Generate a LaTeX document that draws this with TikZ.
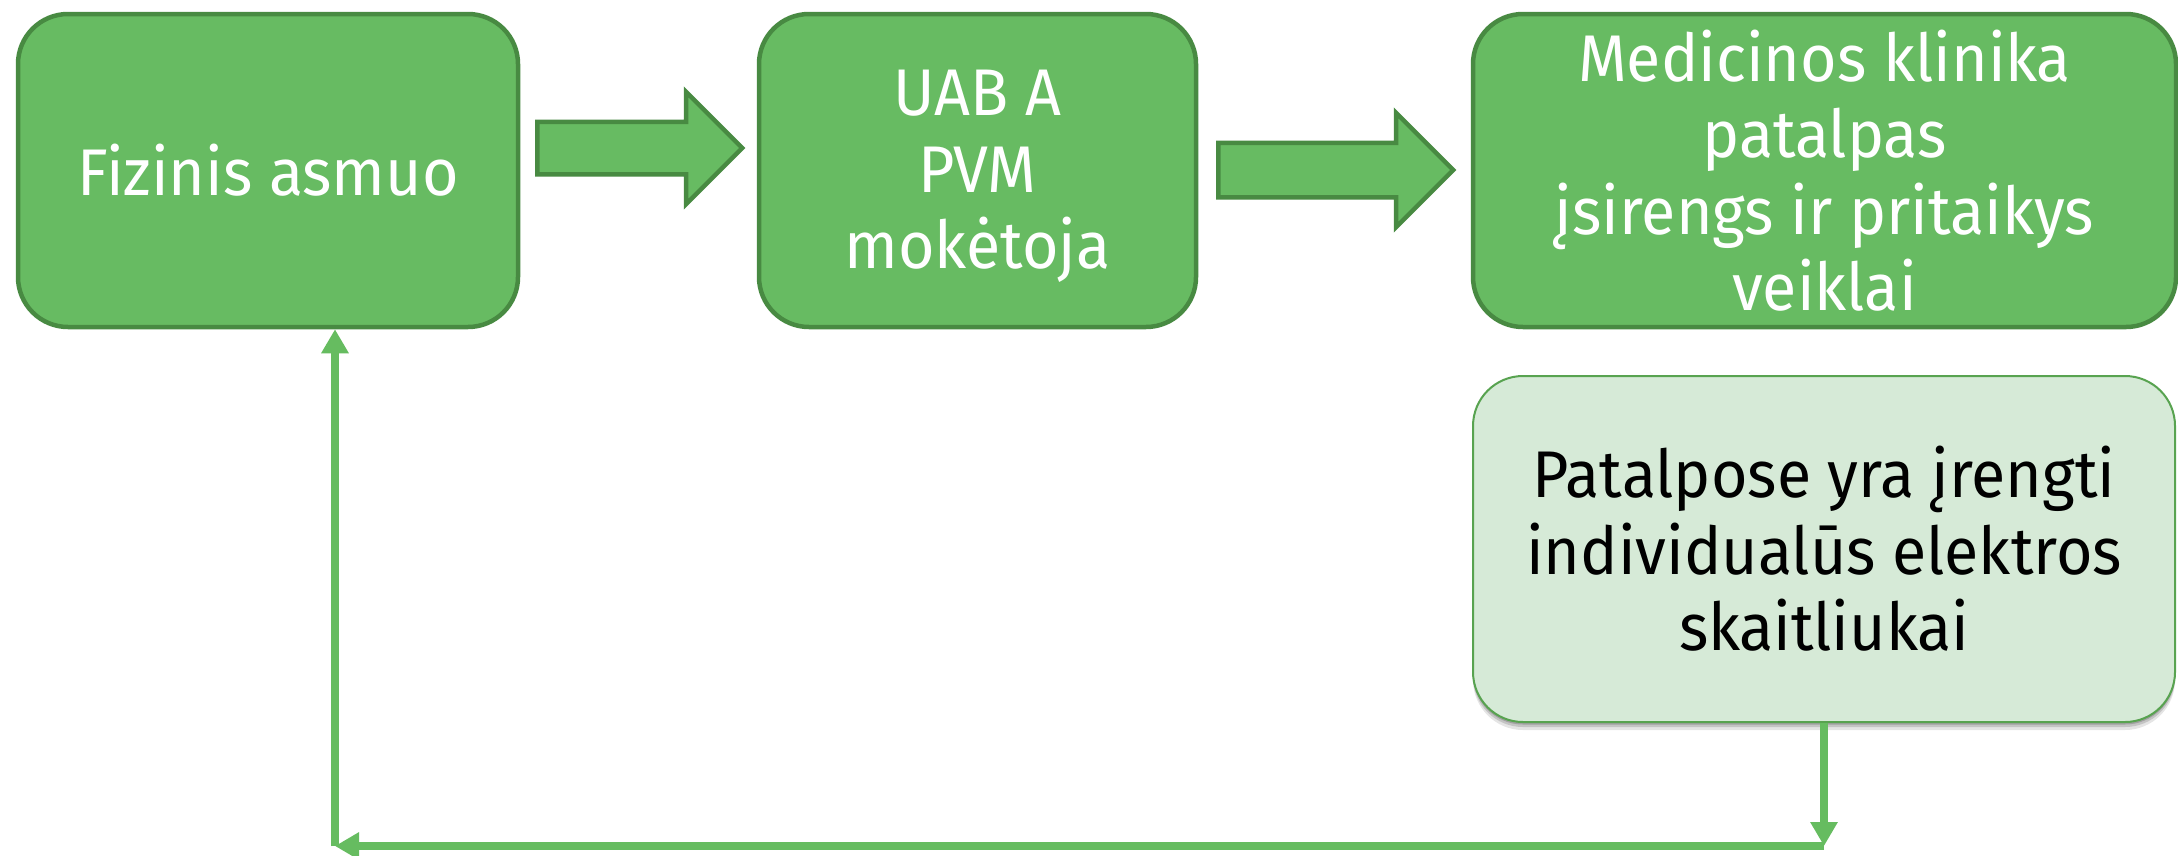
\documentclass[tikz,border=0pt]{standalone}
\usepackage{fontspec}
\setmainfont{Fira Sans}[FakeStretch=0.95]
\usetikzlibrary{arrows.meta,shapes.arrows,shadows,calc}
\definecolor{boxfill}{RGB}{103,187,98}
\definecolor{boxline}{RGB}{72,138,66}
\definecolor{notefill}{RGB}{214,234,215}
\definecolor{noteline}{RGB}{88,163,80}
\definecolor{linkgreen}{RGB}{102,188,96}
\begin{document}
\begin{tikzpicture}[x=1pt,y=-1pt,
  bigtext/.style={font=\fontsize{66}{76.5}\selectfont},
  stepbox/.style={bigtext, draw=boxline, line width=4.5pt, fill=boxfill,
    rounded corners=50pt, text=white, align=center, inner sep=0pt},
  boxtext/.style={bigtext, text=white, align=center, inner sep=0pt},
  notebox/.style={bigtext, draw=noteline, line width=2pt, fill=notefill,
    rounded corners=50pt, text=black, align=center, inner sep=0pt,
    drop shadow={shadow xshift=0pt, shadow yshift=-8pt, opacity=0.10, fill=black},
    drop shadow={shadow xshift=0pt, shadow yshift=-5pt, opacity=0.14, fill=black},
    drop shadow={shadow xshift=0pt, shadow yshift=-2.5pt, opacity=0.18, fill=black}},
  flowarrow/.style={single arrow, draw=boxline, line width=4.5pt, fill=boxfill,
    single arrow head extend=30pt, single arrow tip angle=90,
    inner xsep=0pt, anchor=tail},
  link/.style={draw=linkgreen, line width=7.5pt,
    -{Triangle[width=26pt,length=24pt]}}
]
\fill[white] (0,0) rectangle (2178,855);
\useasboundingbox (0,0) rectangle (2178,855);

% process boxes
\node[stepbox, minimum width=500pt, minimum height=313pt] (b1) at (268,170.5) {Fizinis asmuo};
\node[stepbox, minimum width=437pt, minimum height=313pt] (b2) at (977.5,170.5) {};
\node[boxtext] (t2) at ($(b2.center)+(0,6)$) {UAB A\\PVM\\mokėtoja};
\node[stepbox, minimum width=703pt, minimum height=313pt] (b3) at (1824.5,170.5)
  {Medicinos klinika\\patalpas\\įsirengs ir pritaikys\\veiklai};
\node[notebox, minimum width=702pt, minimum height=346pt] (b4) at (1824,549)
  {Patalpose yra įrengti\\individualūs elektros\\skaitliukai};

% block arrows between the boxes
\node[flowarrow, minimum height=205pt, inner ysep=24pt] (a1) at (535,148) {};
\node[flowarrow, minimum height=235pt, inner ysep=25pt] (a2) at (1216,170) {};

% feedback loop back to the first box
\coordinate (bottomline) at (0,846);
\coordinate (turn) at (b4.south |- bottomline);
\coordinate (corner) at (335,846);
\draw[link] (b4.south) -- (turn);
\draw[link] (turn) -- (corner);
\draw[link] (corner) -- (corner |- b1.south);
\end{tikzpicture}
\end{document}
